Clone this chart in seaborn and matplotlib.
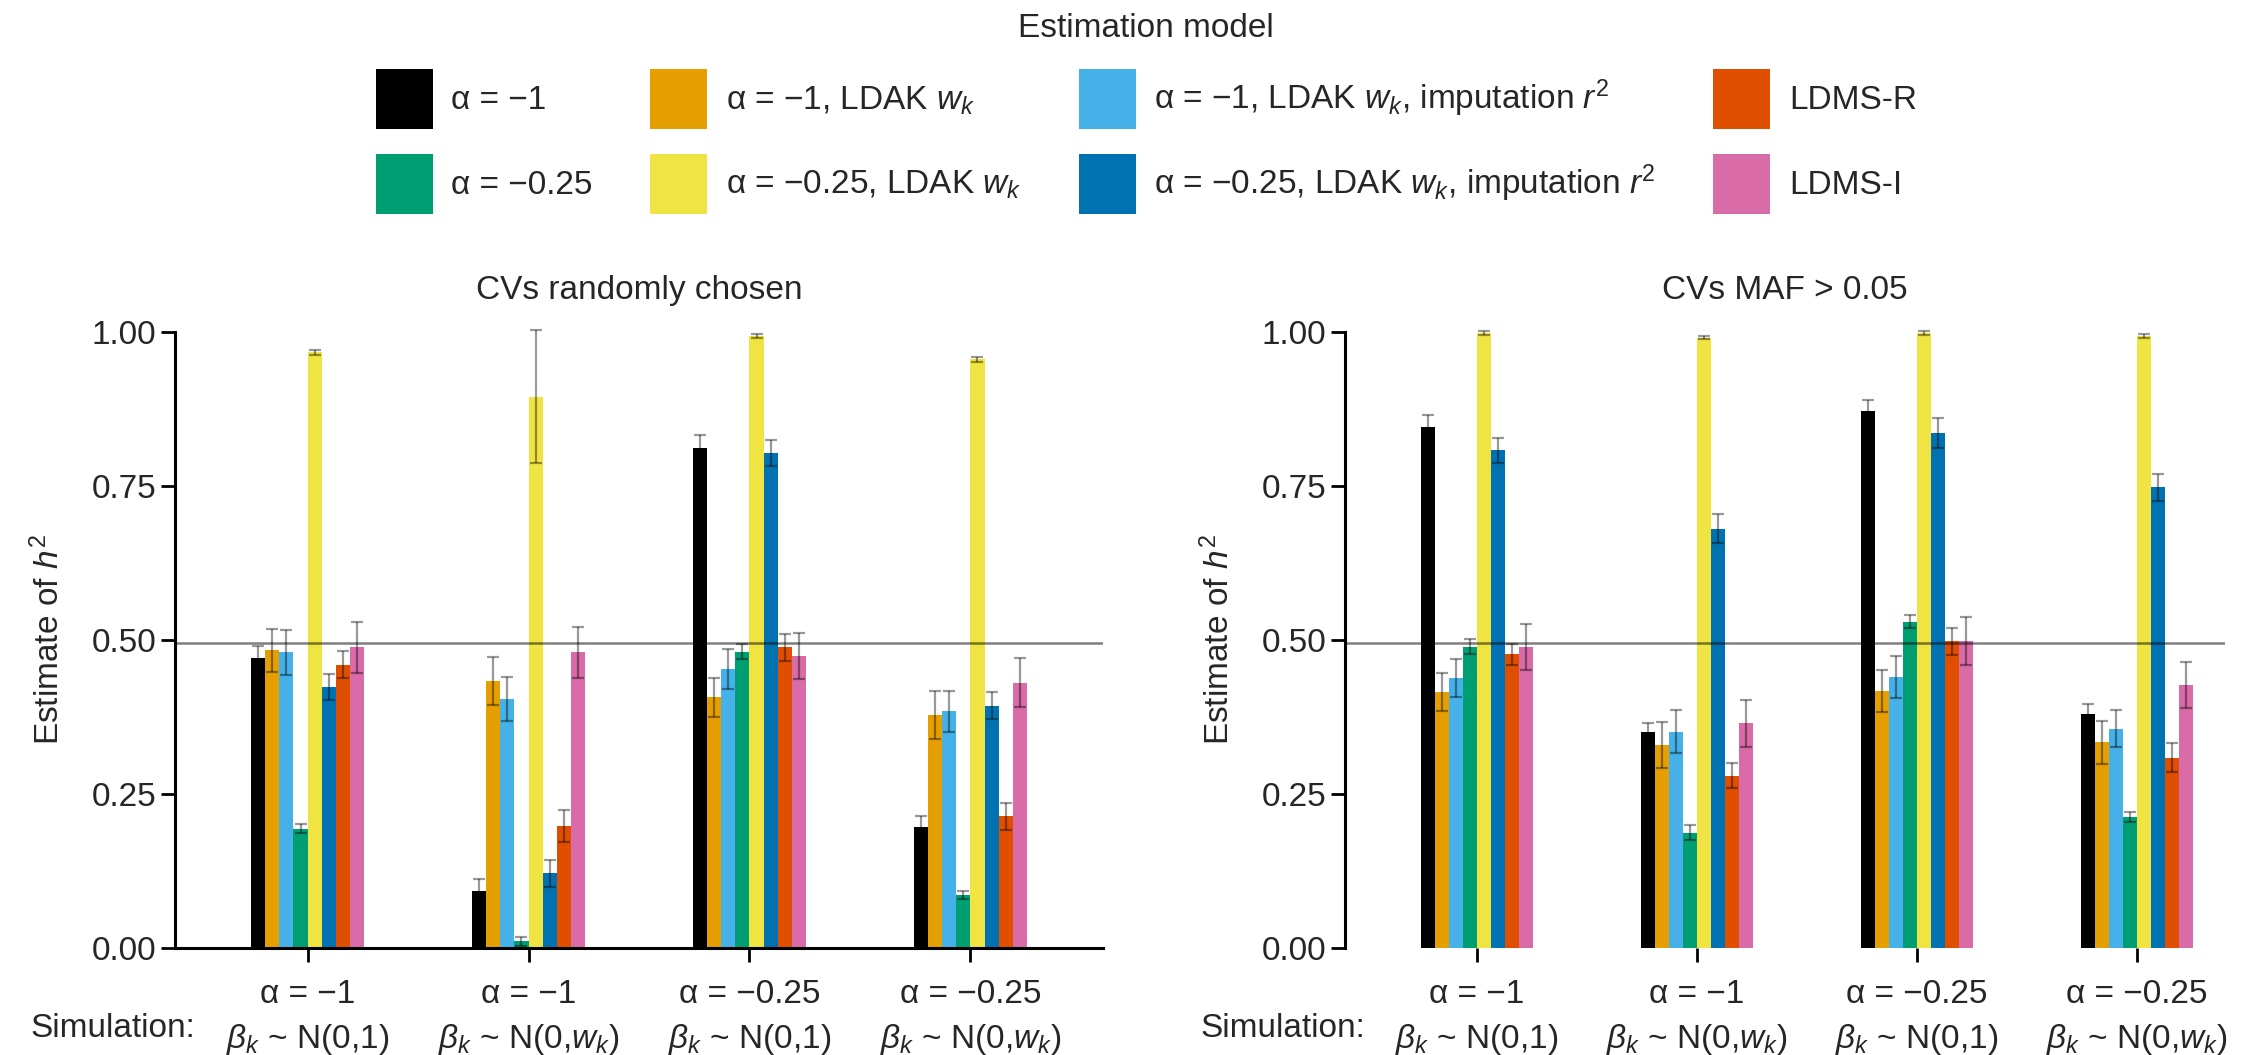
import numpy as np
import pandas as pd
import matplotlib
matplotlib.use("Agg")
import matplotlib.pyplot as plt
import seaborn as sns
from matplotlib.patches import Patch
from matplotlib.container import BarContainer

# Estimation models (bar order inside each group) and their colours
models = [
    "α = −1",
    "α = −1, LDAK $w_k$",
    "α = −1, LDAK $w_k$, imputation $r^2$",
    "α = −0.25",
    "α = −0.25, LDAK $w_k$",
    "α = −0.25, LDAK $w_k$, imputation $r^2$",
    "LDMS-R",
    "LDMS-I",
]
colors = ["#000000", "#E69F00", "#45B1E8", "#009E73", "#F0E442", "#0072B2", "#E04F00", "#D96BA8"]

# Simulation scenarios (x categories)
simulations = [
    "α = −1\n$\\beta_k$ ~ N(0,1)",
    "α = −1\n$\\beta_k$ ~ N(0,$w_k$)",
    "α = −0.25\n$\\beta_k$ ~ N(0,1)",
    "α = −0.25\n$\\beta_k$ ~ N(0,$w_k$)",
]

# CVs randomly chosen: rows = simulation, cols = model
random_h2 = [
    [0.471, 0.483, 0.480, 0.194, 0.967, 0.424, 0.460, 0.488],
    [0.093, 0.434, 0.404, 0.011, 0.895, 0.121, 0.198, 0.480],
    [0.812, 0.407, 0.453, 0.481, 0.994, 0.804, 0.488, 0.474],
    [0.196, 0.379, 0.384, 0.086, 0.956, 0.393, 0.214, 0.431],
]
random_se = [
    [0.020, 0.035, 0.037, 0.007, 0.004, 0.021, 0.022, 0.041],
    [0.019, 0.039, 0.036, 0.007, 0.108, 0.022, 0.026, 0.041],
    [0.020, 0.032, 0.032, 0.012, 0.003, 0.021, 0.022, 0.037],
    [0.019, 0.039, 0.034, 0.006, 0.004, 0.022, 0.022, 0.039],
]

# CVs MAF > 0.05
maf_h2 = [
    [0.846, 0.415, 0.438, 0.489, 0.998, 0.808, 0.477, 0.489],
    [0.350, 0.330, 0.351, 0.187, 0.991, 0.681, 0.280, 0.365],
    [0.872, 0.417, 0.440, 0.530, 0.998, 0.836, 0.498, 0.498],
    [0.380, 0.334, 0.356, 0.213, 0.994, 0.748, 0.309, 0.427],
]
maf_se = [
    [0.020, 0.031, 0.031, 0.012, 0.003, 0.020, 0.017, 0.037],
    [0.016, 0.037, 0.035, 0.012, 0.003, 0.023, 0.020, 0.038],
    [0.018, 0.034, 0.034, 0.010, 0.003, 0.025, 0.022, 0.039],
    [0.016, 0.035, 0.030, 0.008, 0.003, 0.022, 0.024, 0.038],
]

true_h2 = 0.495


def to_long(h2, se):
    rows = []
    for i, sim in enumerate(simulations):
        for j, m in enumerate(models):
            rows.append({"simulation": sim, "model": m, "h2": h2[i][j], "se": se[i][j]})
    return pd.DataFrame(rows)


sns.set_style("ticks")
plt.rcParams["font.family"] = ["Liberation Sans", "DejaVu Sans"]
plt.rcParams["mathtext.fontset"] = "custom"
plt.rcParams["mathtext.rm"] = "Liberation Sans"
plt.rcParams["mathtext.it"] = "Liberation Sans:italic"
plt.rcParams["mathtext.bf"] = "Liberation Sans:bold"
plt.rcParams["font.size"] = 24

fig = plt.figure(figsize=(22.52, 10.55), dpi=100)
ax_l = fig.add_axes([0.0777, 0.1014, 0.4121, 0.5839])
ax_r = fig.add_axes([0.5972, 0.1014, 0.3908, 0.5839])

panels = [
    (ax_l, random_h2, random_se, "CVs randomly chosen", (-0.6, 3.6)),
    (ax_r, maf_h2, maf_se, "CVs MAF > 0.05", (-0.6, 3.4)),
]

for ax, h2, se, title, xlim in panels:
    df = to_long(h2, se)
    sns.barplot(data=df, x="simulation", y="h2", hue="model", order=simulations,
                hue_order=models, palette=colors, width=0.51, errorbar=None,
                saturation=1, linewidth=0, legend=False, ax=ax)
    bar_conts = [c for c in ax.containers if isinstance(c, BarContainer)]
    # error bars from the standard errors
    for j, cont in enumerate(bar_conts):
        xs = [b.get_x() + b.get_width() / 2 for b in cont.patches]
        ys = [h2[i][j] for i in range(len(simulations))]
        es = [se[i][j] for i in range(len(simulations))]
        ax.errorbar(xs, ys, yerr=es, fmt="none", ecolor=(0, 0, 0, 0.4),
                    elinewidth=1.6, capsize=4.5, capthick=1.6, clip_on=False, zorder=3)
    ax.axhline(true_h2, color=(0, 0, 0, 0.5), lw=1.8, zorder=4)
    ax.set_xlim(*xlim)
    ax.set_ylim(0, 1)
    ax.set_yticks([0, 0.25, 0.5, 0.75, 1.0])
    ax.set_yticklabels(["0.00", "0.25", "0.50", "0.75", "1.00"])
    ax.set_xlabel("")
    ax.set_ylabel("Estimate of $h^2$", labelpad=18)
    ax.set_title(title, pad=24, fontsize=24)
    ax.tick_params(axis="both", direction="out", length=10, width=2, labelsize=24, color="black")
    ax.tick_params(axis="x", pad=12)
    for lab in ax.get_xticklabels():
        lab.set_linespacing(1.48)
    for s in ["top", "right"]:
        ax.spines[s].set_visible(False)
    for s in ["left", "bottom"]:
        ax.spines[s].set_linewidth(2.2)
        ax.spines[s].set_color("black")

ax_r.spines["bottom"].set_visible(False)

fig.text(0.0135, 0.0250, "Simulation:", fontsize=24, va="center", ha="left")
fig.text(0.533, 0.0250, "Simulation:", fontsize=24, va="center", ha="left")

# legend, filled column by column
legend_order = [0, 3, 1, 4, 2, 5, 6, 7]
handles = [Patch(facecolor=colors[k], edgecolor="none") for k in legend_order]
labels = [models[k] for k in legend_order]
fig.legend(handles, labels, loc="upper center", bbox_to_anchor=(0.509, 1.0), ncol=4,
           frameon=False, title="Estimation model", fontsize=24, title_fontsize=24,
           handlelength=1.71, handleheight=2.39, handletextpad=0.56,
           columnspacing=1.72, labelspacing=0.74, borderaxespad=0.0)

fig.savefig("out.png", dpi=100)
